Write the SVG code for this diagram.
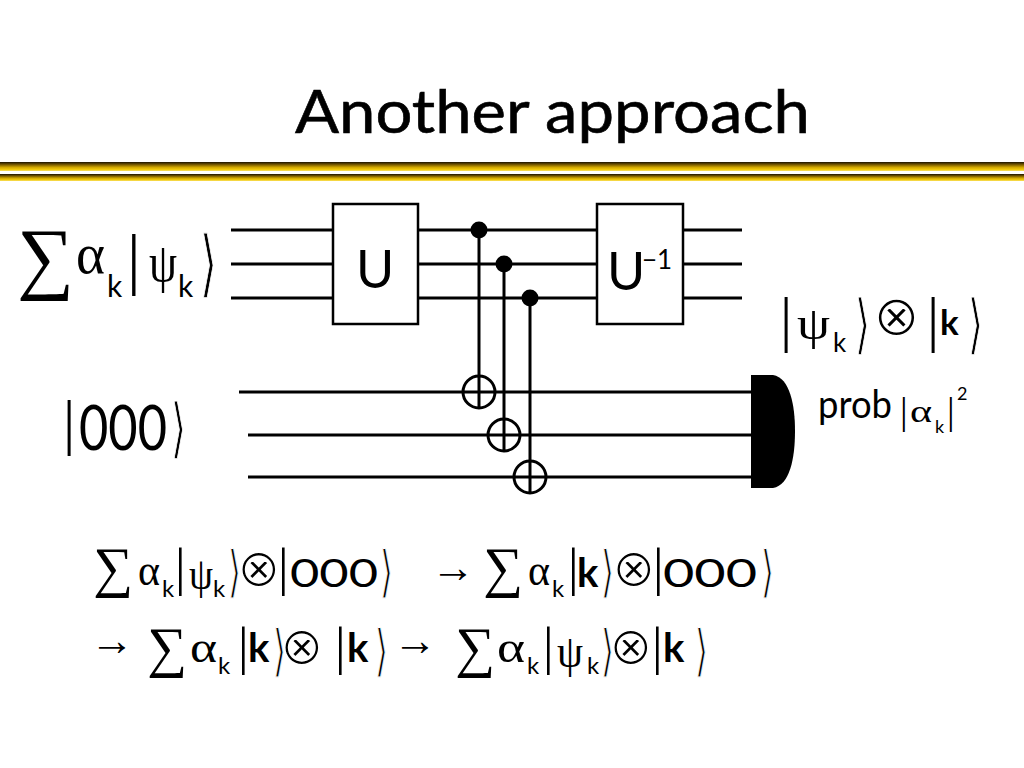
<svg xmlns="http://www.w3.org/2000/svg" width="1024" height="768" viewBox="0 0 1024 768">
<style>
.w{stroke:#000;stroke-width:3;fill:none}
.box{stroke:#000;stroke-width:2.5;fill:#fff}
.s{font-family:"Liberation Serif",serif;fill:#000}
.d{font-family:"DejaVu Sans",sans-serif;fill:#000;stroke:#fff;stroke-width:1.2px}
.o{font-family:"DejaVu Sans",sans-serif;fill:#000;stroke:#fff;stroke-width:1.5px}
.l{font-family:Lato,"Liberation Sans",sans-serif;fill:#000}
.b{font-family:Lato,"Liberation Sans",sans-serif;fill:#000;font-weight:bold}
.t{font-family:Lato,"Liberation Sans",sans-serif;fill:#000;stroke:#000;stroke-width:0.6px}
</style>
<defs>
<linearGradient id="bar" x1="0" y1="0" x2="0" y2="1">
<stop offset="0" stop-color="#1a1200"/>
<stop offset="0.3" stop-color="#7a5c00"/>
<stop offset="0.6" stop-color="#d2a800"/>
<stop offset="0.85" stop-color="#f2cc10"/>
<stop offset="1" stop-color="#f8e070"/>
</linearGradient>
</defs>
<rect width="1024" height="768" fill="#fff"/>
<g id="title">
<text class="t" x="295" y="133" font-size="60" textLength="515" lengthAdjust="spacingAndGlyphs">Another approach</text>
<rect x="0" y="162" width="1024" height="9" fill="url(#bar)"/>
<rect x="0" y="174" width="1024" height="7" fill="url(#bar)"/>
</g>
<g id="wires">
<line class="w" x1="231" y1="230" x2="333" y2="230"/>
<line class="w" x1="231" y1="264" x2="333" y2="264"/>
<line class="w" x1="231" y1="298" x2="333" y2="298"/>
<line class="w" x1="418" y1="230" x2="597" y2="230"/>
<line class="w" x1="418" y1="264" x2="597" y2="264"/>
<line class="w" x1="418" y1="298" x2="597" y2="298"/>
<line class="w" x1="683" y1="230" x2="742" y2="230"/>
<line class="w" x1="683" y1="264" x2="742" y2="264"/>
<line class="w" x1="683" y1="298" x2="742" y2="298"/>
<line class="w" x1="239" y1="392" x2="752" y2="392"/>
<line class="w" x1="248" y1="435" x2="752" y2="435"/>
<line class="w" x1="248" y1="477" x2="752" y2="477"/>
<line class="w" x1="479" y1="230" x2="479" y2="408"/>
<line class="w" x1="504" y1="264" x2="504" y2="451"/>
<line class="w" x1="530" y1="298" x2="530" y2="493"/>
</g>
<g id="U">
<rect class="box" x="333" y="204" width="85" height="120"/>
<text class="l" x="375" y="288" font-size="52" text-anchor="middle">U</text>
</g>
<g id="Uinv">
<rect class="box" x="597" y="204" width="86" height="120"/>
<text class="l" x="607" y="290" font-size="52">U</text>
<text class="l" x="642" y="269" font-size="26">−1</text>
</g>
<g id="cnot1">
<circle cx="479" cy="230" r="8.5" fill="#000"/>
<circle cx="479" cy="392" r="16" class="w"/>
</g>
<g id="cnot2">
<circle cx="504" cy="264" r="8.5" fill="#000"/>
<circle cx="504" cy="435" r="16" class="w"/>
</g>
<g id="cnot3">
<circle cx="530" cy="298" r="8.5" fill="#000"/>
<circle cx="530" cy="477" r="16" class="w"/>
</g>
<g id="measure">
<path d="M751,375 H773 C790,378 795,405 795,431 C795,458 790,485 773,488 H751 Z" fill="#000"/>
</g>
<g id="input-psi">
<text class="s" x="17" y="284" font-size="80">∑</text>
<text class="s" x="76" y="273" font-size="58" textLength="29" lengthAdjust="spacingAndGlyphs">α</text>
<text class="l" x="107" y="297" font-size="30">k</text>
<text class="s" x="127" y="282" font-size="68">|</text>
<text class="s" x="149" y="281" font-size="54" textLength="28" lengthAdjust="spacingAndGlyphs">ψ</text>
<text class="l" x="178" y="297" font-size="30">k</text>
<text class="d" x="200" y="288" font-size="73" textLength="17" lengthAdjust="spacingAndGlyphs">⟩</text>
</g>
<g id="input-000">
<text class="s" x="63" y="443" font-size="61">|</text>
<text class="l" x="79" y="450" font-size="62" textLength="88" lengthAdjust="spacingAndGlyphs">000</text>
<text class="d" x="171" y="450" font-size="65" textLength="15" lengthAdjust="spacingAndGlyphs">⟩</text>
</g>
<g id="output">
<text class="s" x="780" y="340" font-size="61">|</text>
<text class="s" x="797" y="339" font-size="46" textLength="33" lengthAdjust="spacingAndGlyphs">ψ</text>
<text class="l" x="833" y="352" font-size="26">k</text>
<text class="d" x="855" y="346" font-size="65" textLength="15" lengthAdjust="spacingAndGlyphs">⟩</text>
<text class="o" x="873" y="335" font-size="56">⊗</text>
<text class="s" x="927" y="340" font-size="61">|</text>
<text class="b" x="940" y="335" font-size="35">k</text>
<text class="d" x="968" y="346" font-size="65" textLength="15" lengthAdjust="spacingAndGlyphs">⟩</text>
</g>
<g id="prob">
<text class="l" x="818" y="418" font-size="38" textLength="74" lengthAdjust="spacingAndGlyphs">prob</text>
<text class="s" x="900" y="424" font-size="38">|</text>
<text class="s" x="910" y="422" font-size="32" textLength="22" lengthAdjust="spacingAndGlyphs">α</text>
<text class="l" x="935" y="433" font-size="18">k</text>
<text class="s" x="947" y="424" font-size="38">|</text>
<text class="l" x="957" y="400" font-size="18">2</text>
</g>
<g id="eq1">
<text class="s" x="93" y="586" font-size="56">∑</text>
<text class="s" x="138" y="585" font-size="44" textLength="22" lengthAdjust="spacingAndGlyphs">α</text>
<text class="l" x="162" y="597" font-size="24">k</text>
<text class="s" x="175" y="585" font-size="53">|</text>
<text class="s" x="189" y="589" font-size="44" textLength="24" lengthAdjust="spacingAndGlyphs">ψ</text>
<text class="l" x="213" y="597" font-size="24">k</text>
<text class="d" x="228" y="591" font-size="56" textLength="13" lengthAdjust="spacingAndGlyphs">⟩</text>
<text class="o" x="237" y="586" font-size="52">⊗</text>
<text class="s" x="278" y="585" font-size="53">|</text>
<text class="l" x="290" y="587" font-size="38" textLength="88" lengthAdjust="spacingAndGlyphs">000</text>
<text class="d" x="380" y="591" font-size="56" textLength="13" lengthAdjust="spacingAndGlyphs">⟩</text>
<text class="s" x="431" y="582" font-size="44">→</text>
<text class="s" x="483" y="586" font-size="56">∑</text>
<text class="s" x="528" y="585" font-size="44" textLength="22" lengthAdjust="spacingAndGlyphs">α</text>
<text class="l" x="552" y="597" font-size="24">k</text>
<text class="s" x="568" y="585" font-size="53">|</text>
<text class="b" x="577" y="587" font-size="40">k</text>
<text class="d" x="601" y="591" font-size="56" textLength="13" lengthAdjust="spacingAndGlyphs">⟩</text>
<text class="o" x="612" y="586" font-size="52">⊗</text>
<text class="s" x="653" y="585" font-size="53">|</text>
<text class="l" x="663" y="587" font-size="38" textLength="94" lengthAdjust="spacingAndGlyphs">000</text>
<text class="d" x="761" y="591" font-size="56" textLength="13" lengthAdjust="spacingAndGlyphs">⟩</text>
</g>
<g id="eq2">
<text class="s" x="90" y="655" font-size="44">→</text>
<text class="s" x="147" y="666" font-size="56">∑</text>
<text class="s" x="190" y="662" font-size="44" textLength="27" lengthAdjust="spacingAndGlyphs">α</text>
<text class="l" x="218" y="674" font-size="24">k</text>
<text class="s" x="238" y="664" font-size="53">|</text>
<text class="b" x="248" y="662" font-size="40">k</text>
<text class="d" x="273" y="670" font-size="56" textLength="13" lengthAdjust="spacingAndGlyphs">⟩</text>
<text class="o" x="280" y="664" font-size="52">⊗</text>
<text class="s" x="335" y="664" font-size="53">|</text>
<text class="b" x="347" y="662" font-size="40">k</text>
<text class="d" x="375" y="670" font-size="56" textLength="13" lengthAdjust="spacingAndGlyphs">⟩</text>
<text class="s" x="393" y="655" font-size="44">→</text>
<text class="s" x="455" y="666" font-size="56">∑</text>
<text class="s" x="497" y="662" font-size="44" textLength="28" lengthAdjust="spacingAndGlyphs">α</text>
<text class="l" x="527" y="674" font-size="24">k</text>
<text class="s" x="543" y="664" font-size="53">|</text>
<text class="s" x="557" y="667" font-size="46" textLength="26" lengthAdjust="spacingAndGlyphs">ψ</text>
<text class="l" x="587" y="674" font-size="24">k</text>
<text class="d" x="601" y="670" font-size="56" textLength="13" lengthAdjust="spacingAndGlyphs">⟩</text>
<text class="o" x="609" y="664" font-size="52">⊗</text>
<text class="s" x="652" y="664" font-size="53">|</text>
<text class="b" x="663" y="662" font-size="40">k</text>
<text class="d" x="695" y="670" font-size="56" textLength="13" lengthAdjust="spacingAndGlyphs">⟩</text>
</g>
</svg>
